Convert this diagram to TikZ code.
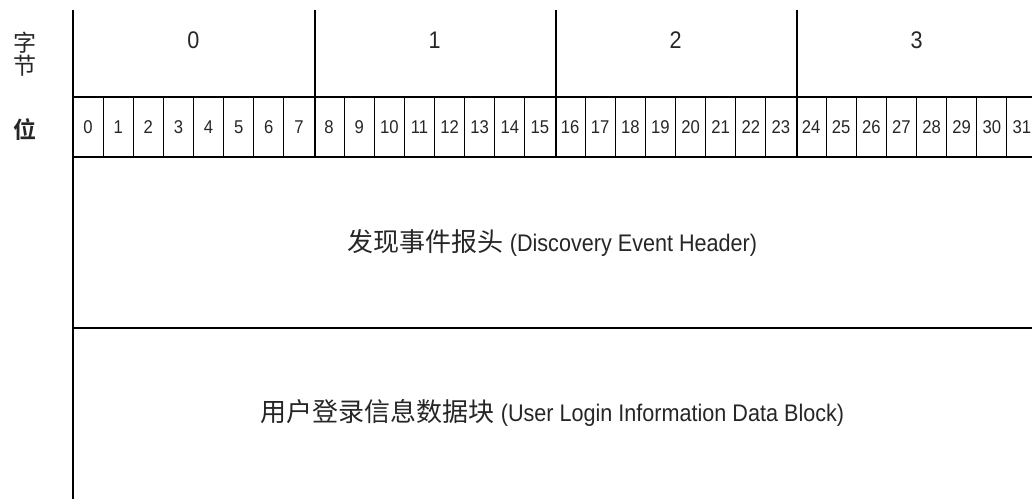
\documentclass[tikz,border=0pt]{standalone}
\usepackage{fontspec}
\setmainfont{Liberation Sans}[FakeStretch=0.9]
\newfontfamily\cjk{Noto Sans CJK SC}
\newfontfamily\cjkbold{Noto Sans CJK SC Bold}
\begin{document}
\begin{tikzpicture}[
    x=1pt, y=-1pt,
    frame/.style={line width=2pt},
    bitline/.style={line width=1pt},
    bytelbl/.style={font=\fontsize{24}{26}\selectfont, text=black!85, inner sep=0pt},
    bitlbl/.style={font=\fontsize{18.5}{20}\selectfont, text=black!85, inner sep=0pt},
    rowlbl/.style={font=\fontsize{23}{23}\selectfont\cjk, text=black!85, align=center, inner sep=0pt},
    fieldlbl/.style={font=\fontsize{24}{28}\selectfont, text=black!85, inner sep=0pt}
]
\useasboundingbox (0,0) rectangle (1032,499);
% --- Row labels ---
\node[rowlbl] (bytehead) at (25,54.5) {字\\节};
\node[rowlbl, font=\fontsize{23}{23}\selectfont\cjkbold] (bithead) at (25,130) {位};

% --- Bit row ---
\foreach \i in {1,...,31}
  \draw[bitline] ({73+30.125*\i},97) -- ({73+30.125*\i},157);
\foreach \i in {0,...,31}
  \node[bitlbl] (bit\i) at ({73+30.125*(\i+0.5)},127) {\i};

% --- Byte row ---
\foreach \b in {0,...,3}
  \node[bytelbl] (byte\b) at ({73+241*(\b+0.5)},40) {\b};
\foreach \x in {315,556,797}
  \draw[frame] (\x,10) -- (\x,157);

% --- Frame ---
\draw[frame] (73,10) -- (73,499);
\draw[frame] (73,97) -- (1032,97);
\draw[frame] (73,157) -- (1032,157);
\draw[frame] (73,328) -- (1032,328);

% --- Fields ---
\node[fieldlbl] (header) at (552.5,243) {{\cjk\fontsize{26}{28}\selectfont 发现事件报头} (Discovery Event Header)};
\node[fieldlbl] (logindata) at (552.5,413) {{\cjk\fontsize{26}{28}\selectfont 用户登录信息数据块} (User Login Information Data Block)};
\end{tikzpicture}
\end{document}
